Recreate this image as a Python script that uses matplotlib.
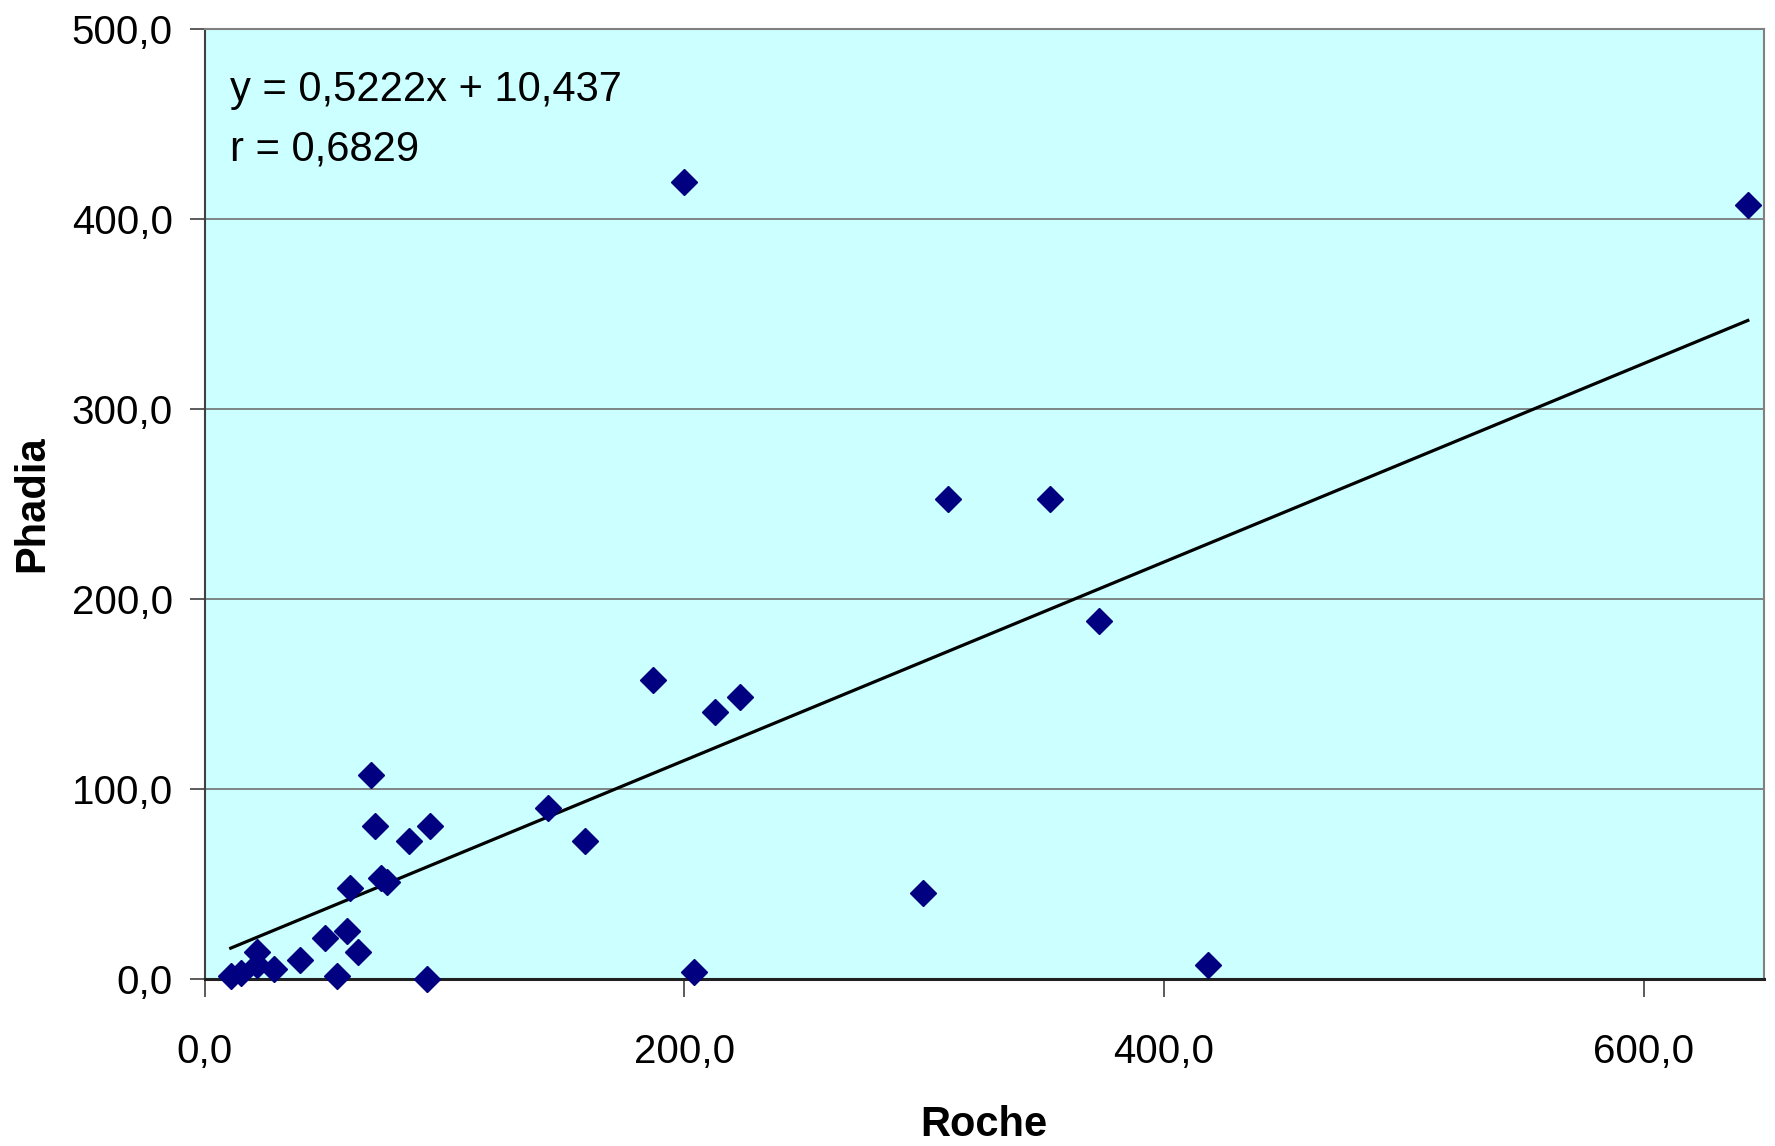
import matplotlib.pyplot as plt
import numpy as np

# Roche vs Phadia values
roche = [10.8, 15.0, 21.7, 21.7, 29.0, 39.6, 50.0, 55.0, 59.4, 60.4, 64.0,
         69.3, 70.8, 73.6, 76.0, 85.0, 92.5, 93.9, 143.0, 158.5, 186.8,
         200.0, 203.8, 212.7, 223.0, 299.5, 310.0, 352.4, 373.0, 418.4, 643.4]
phadia = [1.2, 3.0, 14.3, 7.0, 5.0, 10.0, 21.5, 1.2, 25.0, 47.7, 14.3,
          107.0, 80.5, 53.0, 50.7, 72.7, 0.0, 80.5, 90.0, 72.7, 157.0,
          419.5, 3.6, 140.6, 148.4, 45.3, 252.7, 252.7, 188.3, 7.2, 407.0]

slope = 0.5222
intercept = 10.437
r_value = 0.6829

x_ticks = [0, 200, 400, 600]
y_ticks = [0, 100, 200, 300, 400, 500]

plt.rcParams['font.family'] = ['Liberation Sans', 'DejaVu Sans']

fig = plt.figure(figsize=(17.75, 11.46), dpi=100)
ax = fig.add_axes([0.1154, 0.146, 0.8782, 0.829])
ax.set_facecolor('#CCFFFF')

for yt in y_ticks[1:]:
    ax.axhline(yt, color='#707070', lw=1.2, zorder=1)

xs = np.array([min(roche), max(roche)])
ax.plot(xs, slope * xs + intercept, color='black', lw=2.3, zorder=2)

ax.plot(roche, phadia, linestyle='none', marker='D', markersize=13,
        color='#000080', zorder=3, clip_on=False)

ax.set_xlim(0, 650)
ax.set_ylim(0, 500)
ax.set_xticks(x_ticks)
ax.set_yticks(y_ticks)
ax.set_xticklabels([f'{v:.1f}'.replace('.', ',') for v in x_ticks])
ax.set_yticklabels([f'{v:.1f}'.replace('.', ',') for v in y_ticks])
ax.tick_params(axis='x', direction='out', length=13, width=1.2, pad=26,
               labelsize=29, color='#404040')
ax.tick_params(axis='y', direction='out', length=11, width=1.2, pad=12,
               labelsize=29, color='#404040')

for side in ['top', 'right']:
    ax.spines[side].set_color('#808080')
    ax.spines[side].set_linewidth(1.5)
ax.spines['left'].set_color('#404040')
ax.spines['left'].set_linewidth(1.5)
ax.spines['bottom'].set_color('#202020')
ax.spines['bottom'].set_linewidth(2.2)

ax.set_xlabel('Roche', fontsize=30, fontweight='bold')
ax.set_ylabel('Phadia', fontsize=30, fontweight='bold')
ax.xaxis.set_label_coords(0.5, -0.154)
ax.yaxis.set_label_coords(-0.111, 0.5)
ax.xaxis.label.set_va('center')
ax.yaxis.label.set_va('center')

eq = f'y = {slope:.4f}x + {intercept:.3f}'.replace('.', ',')
rt = f'r = {r_value:.4f}'.replace('.', ',')
ax.text(0.016, 0.935, eq, transform=ax.transAxes, fontsize=30, va='center')
ax.text(0.016, 0.873, rt, transform=ax.transAxes, fontsize=30, va='center')

plt.savefig('out.png', dpi=100)
